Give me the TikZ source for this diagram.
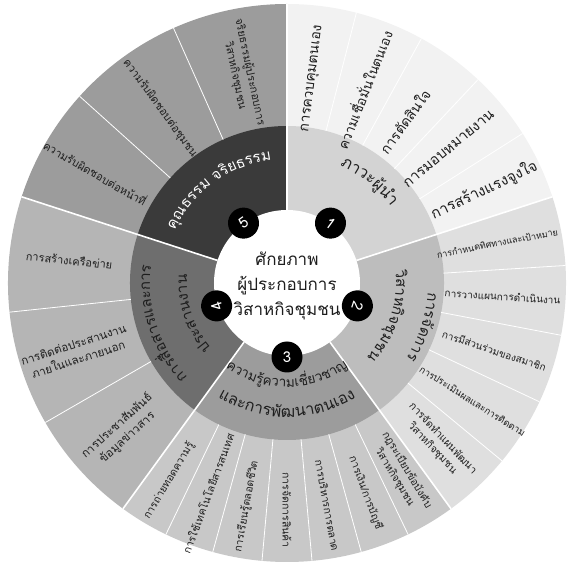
\documentclass[tikz,border=0pt]{standalone}
\usepackage{fontspec}
\setmainfont{Loma}[Script=Thai]
\usetikzlibrary{decorations.text}

\definecolor{leadout}{HTML}{F2F2F2}
\definecolor{leadin}{HTML}{D3D3D3}
\definecolor{mgmtout}{HTML}{DFDFDF}
\definecolor{mgmtin}{HTML}{BDBDBD}
\definecolor{knowout}{HTML}{C8C8C8}
\definecolor{knowin}{HTML}{9C9C9C}
\definecolor{commout}{HTML}{B5B5B5}
\definecolor{commin}{HTML}{6E6E6E}
\definecolor{ethout}{HTML}{9C9C9C}
\definecolor{ethin}{HTML}{3A3A3A}
\definecolor{ink}{HTML}{1E1E1E}

\tikzset{
  item/.style={text=ink, align=center, inner sep=0pt},
  numdot/.style={circle, fill=black, text=white, minimum size=31pt, inner sep=0pt, font=\fontsize{15}{15}\selectfont},
  ringtext/.style={decorate, decoration={text along path, text align=center, text color=ink, text={#1}}}
}

\begin{document}
\begin{tikzpicture}[x=1pt, y=1pt]
\useasboundingbox (-287,-281) rectangle (280,283);

% five parts, outer ring and middle ring
\foreach \a/\co/\ci in {90/leadout/leadin, 18/mgmtout/mgmtin, -54/knowout/knowin, -126/commout/commin, -198/ethout/ethin} {
  \fill[\co] (0,0) -- (\a:279) arc[start angle=\a, end angle=\a-72, radius=279] -- cycle;
  \fill[\ci] (0,0) -- (\a:157) arc[start angle=\a, end angle=\a-72, radius=157] -- cycle;
}

% lines between the items
\foreach \a in {75.6,61.2,46.8,32.4,3.6,-10.8,-25.2,-39.6,210,186,138,114}
  \draw[white, line width=0.8pt] (\a:157) -- (\a:279);
\foreach \k in {1,...,6}
  \draw[white, line width=0.8pt] ({-54-\k*72/7}:157) -- ({-54-\k*72/7}:279);
\foreach \a in {90,18,-54,-126,-198}
  \draw[white, line width=1.6pt] (\a:73) -- (\a:279);

\fill[white] (0,0) circle[radius=73];

% items
\foreach \n/\a/\r/\d/\s/\t in {
  i1/82.8/82.8/206/14/การควบคุมตนเอง,
  i2/68.4/68.4/208/13.5/ความเชื่อมั่นในตนเอง,
  i3/54/54/200/14/การตัดสินใจ,
  i4/39.6/39.6/210/14.5/การมอบหมายงาน,
  i5/25.2/25.2/218/15/การสร้างแรงจูงใจ,
  i6/10.8/10.8/214/9/การกำหนดทิศทางและเป้าหมาย,
  i7/-3.6/-3.6/216/10/การวางแผนการดำเนินงาน,
  i8/-18/-18/218/10/การมีส่วนร่วมของสมาชิก,
  i9/-32.4/-32.4/220/9.5/การประเมินผลและการติดตาม,
  i10/-46.8/-46.8/220/10.5/{การจัดทำแผนพัฒนา\\วิสาหกิจชุมชน},
  i11/-59.14/-59.14/222/10.5/{กฎระเบียบข้อบังคับ\\วิสาหกิจชุมชน},
  i12/-69.43/-69.43/224/10.5/{การเงิน/การบัญชี},
  i13/-79.71/-79.71/226/10.5/การบริหารการตลาด,
  i14/-90/-90/227/10.5/การจัดการสินค้า,
  i15/-100.29/79.71/227/10.5/การเรียนรู้ตลอดชีวิต,
  i16/-110.57/69.43/225/10.5/การใช้เทคโนโลยีสารสนเทศ,
  i17/-120.86/59.14/230/10.5/การถ่ายทอดความรู้,
  i18/222/42/222/11.5/{การประชาสัมพันธ์\\ข้อมูลข่าวสาร},
  i19/198/18/222/11.5/{การติดต่อประสานงาน\\ภายในและภายนอก},
  i20/174/-6/219/11/การสร้างเครือข่าย,
  i21/150/-30/221/11/ความรับผิดชอบต่อหน้าที่,
  i22/126/-54/216/11/ความรับผิดชอบต่อชุมชน,
  i23/102/-78/214/11/{จริยธรรมผู้ประกอบการ\\วิสาหกิจชุมชน}}
  \node[item, rotate=\r, font=\linespread{1.35}\fontsize{\s}{\s}\selectfont] (\n) at (\a:\d) {\t};

% names of the five parts
\path[ringtext={|\fontsize{16}{16}\selectfont|ภาวะ{ผู้}{นำ}}] (121:129) arc[start angle=121, end angle=-19, radius=129];
\path[ringtext={|\fontsize{15}{15}\selectfont|การ{จั}ดการ}] (52:141) arc[start angle=52, end angle=-88, radius=141];
\path[ringtext={|\fontsize{15}{15}\selectfont|{วิ}สาห{กิ}จ{ชุ}มชน}] (52:109) arc[start angle=52, end angle=-88, radius=109];
\path[ringtext={|\fontsize{13.5}{13.5}\selectfont|ความ{รู้}ความเ{ชี่}ยวชาญ}] (-160:104) arc[start angle=-160, end angle=-20, radius=104];
\path[ringtext={|\fontsize{16}{16}\selectfont|และการ{พั}ฒนาตนเอง}] (-160:134) arc[start angle=-160, end angle=-20, radius=134];
\path[ringtext={|\fontsize{15}{15}\selectfont|การ{สื่}อสารและการ}] (268:137) arc[start angle=268, end angle=128, radius=137];
\path[ringtext={|\fontsize{15}{15}\selectfont|ประสานงาน}] (268:100) arc[start angle=268, end angle=128, radius=100];
\path[ringtext={|\fontsize{15}{15}\selectfont|{คุ}ณธรรม จ{ริ}ยธรรม}, decoration={text color=white}] (196:124) arc[start angle=196, end angle=56, radius=124];

% numbers
\node[numdot, rotate=-36] (n1) at (54:74) {1};
\node[numdot, rotate=-108] (n2) at (-18:74) {2};
\node[numdot] (n3) at (-90:74) {3};
\node[numdot, rotate=108] (n4) at (198:74) {4};
\node[numdot, rotate=36] (n5) at (126:74) {5};

\node[text=ink, align=center, font=\linespread{1.45}\fontsize{17}{17}\selectfont] (core) at (0,-3) {ศักยภาพ\\ผู้ประกอบการ\\วิสาหกิจชุมชน};
\end{tikzpicture}
\end{document}
